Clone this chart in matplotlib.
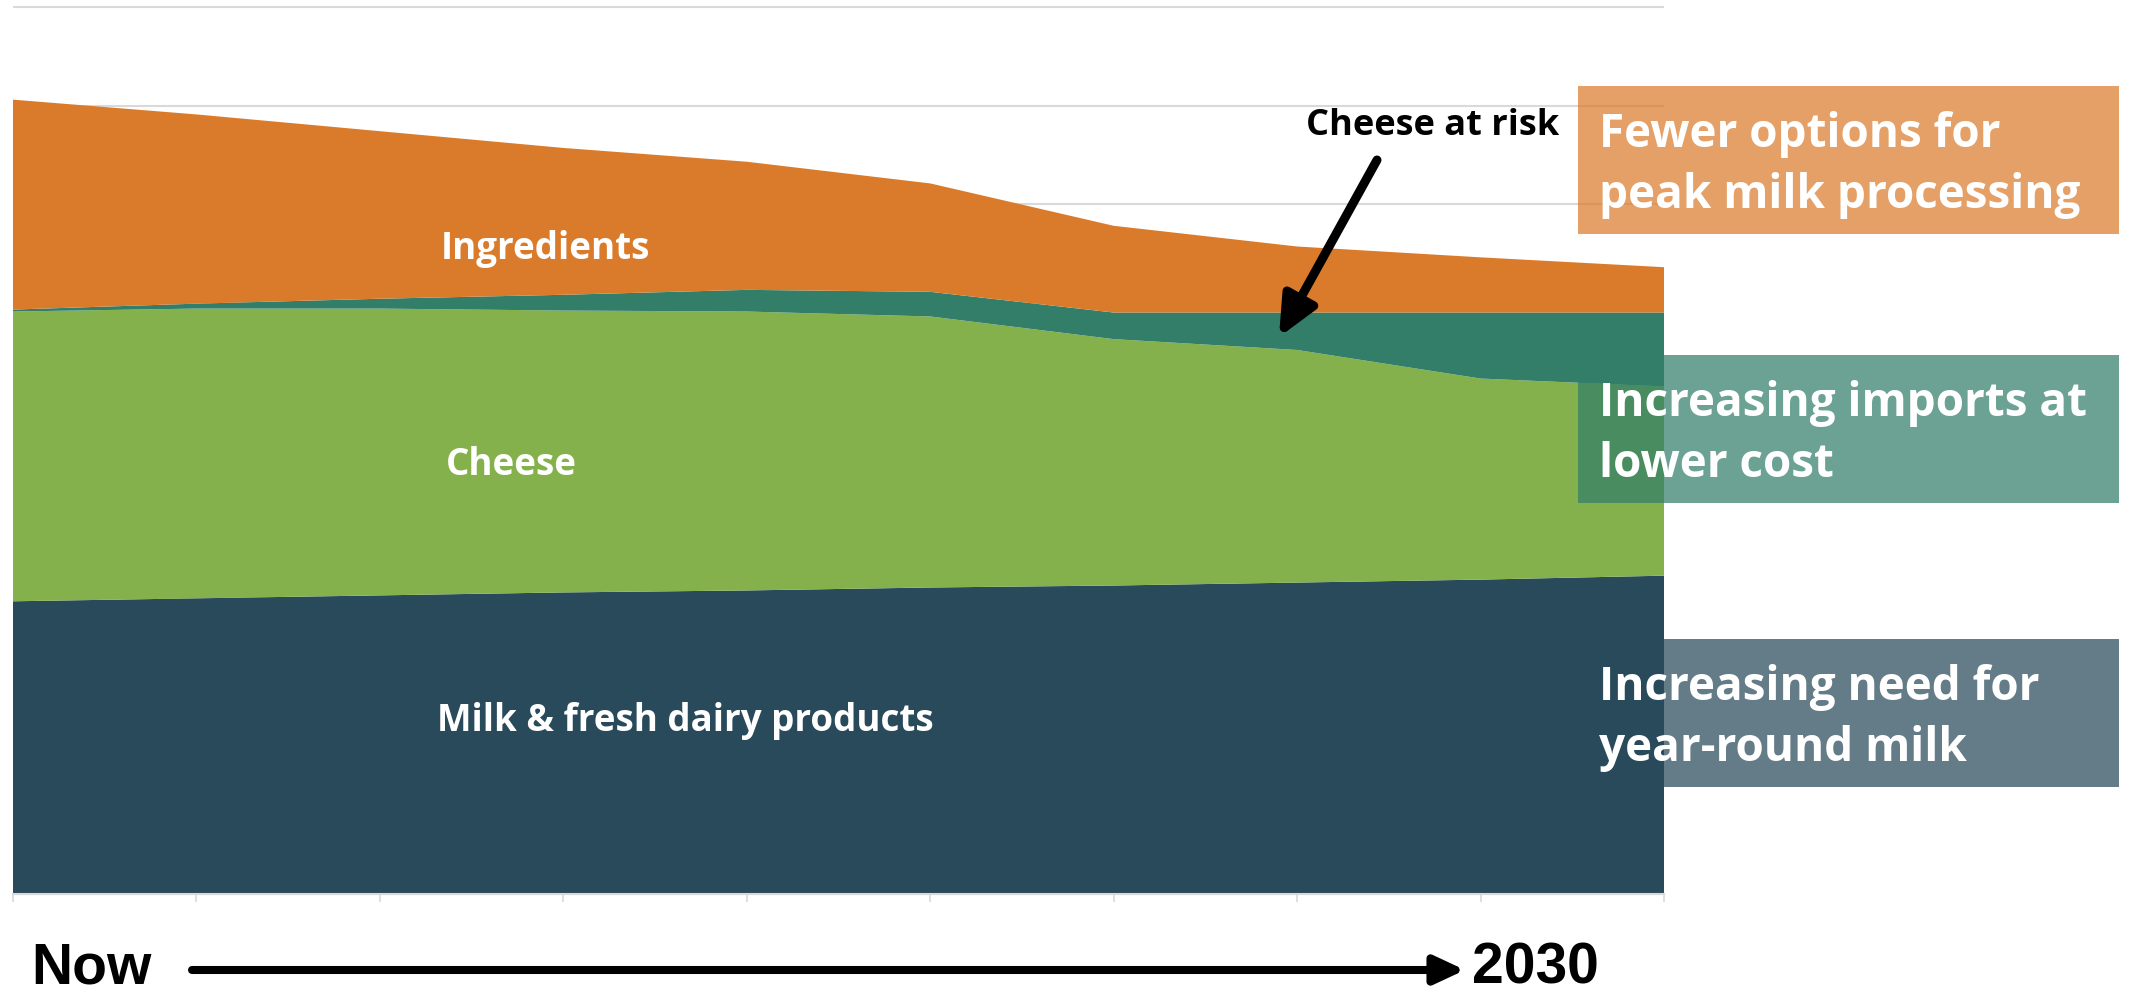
import matplotlib
matplotlib.use("Agg")
import matplotlib.pyplot as plt
from matplotlib.patches import Rectangle, FancyArrowPatch

# ---- data (stacked areas) ----
periods = list(range(10))  # Now ... 2030
milk = [2.97, 3.00, 3.03, 3.06, 3.08, 3.11, 3.13, 3.16, 3.19, 3.23]
cheese = [2.94, 2.94, 2.91, 2.86, 2.83, 2.75, 2.50, 2.36, 2.04, 1.92]
cheese_at_risk = [0.02, 0.05, 0.10, 0.16, 0.22, 0.25, 0.27, 0.38, 0.67, 0.75]
ingredients = [2.13, 1.92, 1.70, 1.49, 1.30, 1.10, 0.88, 0.67, 0.56, 0.46]

series_names = ["Milk & fresh dairy products", "Cheese", "Cheese at risk", "Ingredients"]
series_colors = ["#284A5A", "#84B14C", "#327E69", "#DA7B2C"]

box_texts = [["Fewer options for", "peak milk processing"],
             ["Increasing imports at", "lower cost"],
             ["Increasing need for", "year-round milk"]]
box_colors = ["#DA7B2C", "#327E69", "#284A5A"]
start_label, end_label = "Now", "2030"

W, H = 2133, 989
fig = plt.figure(figsize=(W / 100, H / 100), dpi=100)
fig.patch.set_facecolor("white")

def fx(px):
    return px / W

def fy(py):
    return 1 - py / H

ax = fig.add_axes([fx(13), fy(894), fx(1664) - fx(13), fy(7) - fy(894)])
ax.stackplot(periods, milk, cheese, cheese_at_risk, ingredients,
             colors=series_colors, linewidth=0, zorder=2)
ax.set_xlim(0, 9)
ax.set_ylim(0, 9)
ax.set_yticks(range(0, 10))
ax.set_xticks(periods)
ax.set_axisbelow(True)
ax.yaxis.grid(True, color="#D9D9D9", linewidth=1.5)
for gl in ax.get_ygridlines():
    gl.set_clip_on(False)
    gl.set_solid_capstyle("butt")
ax.tick_params(axis="y", length=0, labelleft=False)
ax.tick_params(axis="x", length=6, width=1.2, color="#D9D9D9", labelbottom=False)
for s in ["top", "right", "left"]:
    ax.spines[s].set_visible(False)
ax.spines["bottom"].set_color("#D9D9D9")
ax.spines["bottom"].set_linewidth(1.5)
ax.spines["bottom"].set_zorder(3)
ax.set_facecolor("white")

lab_font = dict(family=["Open Sans", "DejaVu Sans"], fontweight="bold")
fig.text(fx(545), fy(259), series_names[3], color="white", fontsize=26.5,
         ha="center", va="baseline", **lab_font)
fig.text(fx(511), fy(475), series_names[1], color="white", fontsize=26.5,
         ha="center", va="baseline", **lab_font)
fig.text(fx(685), fy(731), series_names[0], color="white", fontsize=26.5,
         ha="center", va="baseline", **lab_font)
fig.text(fx(1433), fy(135), series_names[2], color="black", fontsize=26,
         ha="center", va="baseline", **lab_font)

# annotation arrow for cheese at risk
arr = FancyArrowPatch((fx(1377), fy(160)), (fx(1279), fy(337)),
                      transform=fig.transFigure,
                      arrowstyle="-|>,head_length=1.2,head_width=0.55",
                      mutation_scale=20, linewidth=6.5, color="black",
                      shrinkA=0, shrinkB=0, zorder=5)
fig.add_artist(arr)

# right-hand boxes
box_tops = [86, 355, 639]
for top, lines, col in zip(box_tops, box_texts, box_colors):
    rect = Rectangle((fx(1578), fy(top + 148)), fx(2119) - fx(1578), fy(top) - fy(top + 148),
                     transform=fig.transFigure, facecolor=col, alpha=0.72,
                     edgecolor="none", zorder=4)
    fig.add_artist(rect)
    for i, line in enumerate(lines):
        fig.text(fx(1599), fy(top + 61 + i * 61), line, color="white", fontsize=33,
                 ha="left", va="baseline", zorder=6,
                 family=["Open Sans", "DejaVu Sans"], fontweight="bold")

# timeline at the bottom
tl_font = dict(family=["Liberation Sans", "DejaVu Sans"], fontweight="bold")
fig.text(fx(31), fy(984), start_label, fontsize=41, color="black",
         ha="left", va="baseline", **tl_font)
fig.text(fx(1472), fy(984), end_label, fontsize=41, color="black",
         ha="left", va="baseline", **tl_font)
tl = FancyArrowPatch((fx(192), fy(970)), (fx(1465), fy(970)),
                     transform=fig.transFigure,
                     arrowstyle="-|>,head_length=0.9,head_width=0.42",
                     mutation_scale=20, linewidth=5.8, color="black",
                     shrinkA=0, shrinkB=0)
fig.add_artist(tl)

fig.savefig("out.png", dpi=100, facecolor="white")
